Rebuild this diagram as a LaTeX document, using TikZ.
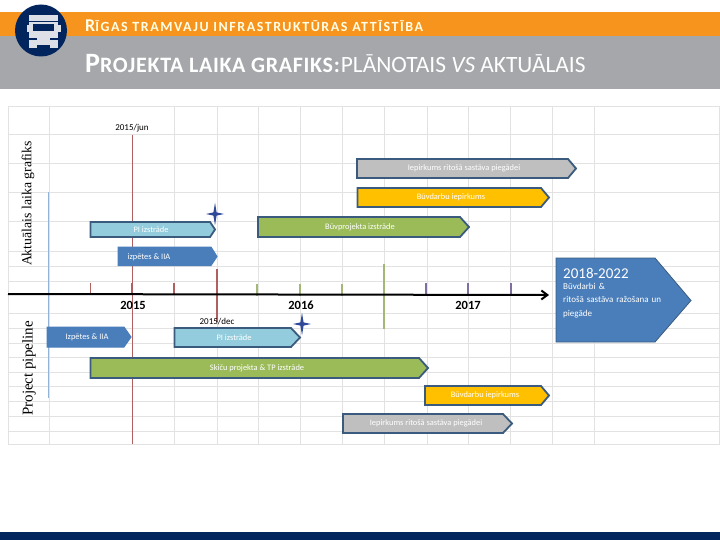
\documentclass[tikz,border=0pt]{standalone}
\usepackage{fontspec}
\setmainfont{Carlito}
\newfontfamily\serifl{Liberation Serif}
\usetikzlibrary{arrows.meta}
\definecolor{orangebar}{HTML}{F7941E}
\definecolor{greybar}{HTML}{A5A7AA}
\definecolor{navy}{HTML}{03255E}
\definecolor{gridc}{HTML}{E2E2E2}
\definecolor{edgec}{HTML}{3B5B7E}
\definecolor{barblue}{HTML}{4A7EBB}
\definecolor{barlight}{HTML}{93CDDD}
\definecolor{bargreen}{HTML}{9BBB59}
\definecolor{baryellow}{HTML}{FFC000}
\definecolor{bargrey}{HTML}{BFBFBF}
\definecolor{redl}{HTML}{B0605F}
\definecolor{greenl}{HTML}{A3B877}
\definecolor{purpl}{HTML}{7F6FA0}
\definecolor{truckc}{HTML}{DDE0E6}
\tikzset{
  x=1pt,y=-1pt,
  gridline/.style={draw=gridc,line width=1pt},
  barbox/.style={draw=edgec,line width=1.8pt,line join=miter},
  bartext/.style={text=white,font=\fontsize{8.4}{9}\selectfont,inner sep=0pt},
  tick/.style={line width=1.3pt},
  yearlab/.style={font=\fontsize{12.5}{13}\selectfont\bfseries,inner sep=0pt},
  datelab/.style={font=\fontsize{9}{10}\selectfont,inner sep=0pt},
  sidelab/.style={rotate=90,inner sep=0pt},
  starf/.style={fill=edgec!80!blue,draw=none}
}
\newcommand{\sparkle}[3]{\fill[starf] (#1-#3,#2) -- (#1-1.6,#2-1.6) -- (#1,#2-#3*1.25) -- (#1+1.6,#2-1.6) -- (#1+#3,#2) -- (#1+1.6,#2+1.6) -- (#1,#2+#3*1.25) -- (#1-1.6,#2+1.6) -- cycle;}
\newcommand{\pent}[8]{%
  \draw[barbox,fill=#6] (#1,#4) -- (#2,#4) -- (#3,{(#4+#5)/2}) -- (#2,#5) -- (#1,#5) -- cycle;
  \node[bartext] (#8) at (#7,{(#4+#5)/2}) {};
}
\begin{document}
\begin{tikzpicture}
\useasboundingbox (0,0) rectangle (720,540);
\fill[white] (0,0) rectangle (720,540);
% header
\fill[orangebar] (0,12) rectangle (720,36);
\fill[greybar] (0,36) rectangle (720,89);
\fill[navy] (0,532) rectangle (720,540);
\node[anchor=base west,inner sep=0pt,text=white!90!yellow] (t1) at (85,31.5)
 {\bfseries\addfontfeature{LetterSpace=11}\fontsize{18}{18}\selectfont R\fontsize{14}{18}\selectfont ĪGAS TRAMVAJU INFRASTRUKTŪRAS ATTĪSTĪBA};
\node[anchor=base west,inner sep=0pt,text=white] (t2) at (85,73)
 {{\bfseries\addfontfeature{LetterSpace=3}\fontsize{28}{28}\selectfont P\fontsize{22}{28}\selectfont ROJEKTA LAIKA GRAFIKS:}\hspace{1pt}\fontsize{23.4}{28}\selectfont PLĀNOTAIS \textit{VS} AKTUĀLAIS};
% logo
\fill[navy] (41,30.5) circle (26);
\fill[truckc] (29,15) rectangle (58,21.5);
\fill[truckc] (29,22.5) rectangle (58,48);
\fill[navy] (33,24) rectangle (54,31);
\fill[truckc] (26.5,25) rectangle (29,32);
\fill[truckc] (58,25) rectangle (60.5,32);
\fill[navy] (29,38) rectangle (37,40);
\fill[navy] (50,38) rectangle (58,40);
\fill[navy] (37,45) rectangle (50,48);
% grid: horizontal
\foreach \yy in {107,135,164,193,222,251,266,281,313,328,343,357,372,386,401,416,431,444}
  \draw[gridline] (7.5,\yy) -- (719.5,\yy);
% grid: vertical
\draw[gridline] (8,107) -- (8,444);
\draw[gridline] (719,107) -- (719,444);
\foreach \xx in {49,174,217,258,300,342,384,427,468,510,552,594}
  \draw[gridline] (\xx,107) -- (\xx,444);
\draw[draw=barblue!60!white,line width=0.8pt] (48.5,192) -- (48.5,398);
% date lines
\draw[draw=redl,line width=0.7pt] (132,135) -- (132,444);
\draw[draw=redl,line width=1.6pt] (217,269) -- (217,322);
\draw[draw=greenl,line width=1.6pt] (384,264) -- (384,329);
% ticks
\foreach \xx in {90.5,132,174} \draw[tick,draw=redl] (\xx,283) -- (\xx,294);
\foreach \xx in {257,300,342} \draw[tick,draw=greenl] (\xx,284) -- (\xx,296);
\foreach \xx in {426,468,511} \draw[tick,draw=purpl] (\xx,283) -- (\xx,295);
% axis
\coordinate (axs) at (8,294); \coordinate (axe) at (549,295);
\draw[line width=2pt,-{Straight Barb[length=6pt,width=9pt]}] (axs) -- (axe);
\node[yearlab] (y15) at (133,305) {2015};
\node[yearlab] (y16) at (301,305) {2016};
\node[yearlab] (y17) at (468,305) {2017};
\node[datelab] (jun) at (132,128.5) {2015/jun};
\node[datelab] (dec) at (217,322) {2015/dec};
\node[sidelab,font=\serifl\fontsize{13.8}{14}\selectfont] (lab1) at (28,203.5) {Aktuālais laika grafiks};
\node[sidelab,font=\serifl\fontsize{15}{16}\selectfont] (lab2) at (29,368.5) {Project pipeline};
% upper bars
\pent{357}{568}{576}{159}{178}{bargrey}{464}{b1}
\node[bartext] at (b1) {Iepirkums ritošā sastāva piegādei};
\pent{357.5}{541}{549}{188}{207}{baryellow}{451}{b2}
\node[bartext] at (b2) {Būvdarbu iepirkums};
\pent{258}{460}{469}{217}{237}{bargreen}{360}{b3}
\node[bartext] at (b3) {Būvprojekta izstrāde};
\pent{90.5}{210}{215}{222}{237}{barlight}{151}{b4}
\node[bartext] at (b4) {PI izstrāde};
\draw[draw=barblue,line width=1pt,fill=barblue] (118,247) -- (211,247) -- (217,256.5) -- (211,265.5) -- (118,265.5) -- cycle;
\node[bartext] (b5) at (149,257) {izpētes \& IIA};
% lower bars
\draw[draw=barblue,line width=1pt,fill=barblue] (47,327) -- (124,327) -- (131,337) -- (124,347) -- (47,347) -- cycle;
\node[bartext] (c1) at (87,337) {Izpētes \& IIA};
\pent{174.5}{291}{300}{328}{347}{barlight}{234}{c2}
\node[bartext] at (c2) {PI izstrāde};
\pent{90.5}{419}{428}{358}{378}{bargreen}{257}{c3}
\node[bartext] at (c3) {Skiču projekta \& TP izstrāde};
\pent{425}{541}{549}{386}{405}{baryellow}{485}{c4}
\node[bartext] at (c4) {Būvdarbu iepirkums};
\pent{343}{503}{512}{414}{433}{bargrey}{426}{c5}
\node[bartext] at (c5) {Iepirkums ritošā sastāva piegādei};
% big pentagon
\draw[draw=edgec,line width=0.8pt,fill=barblue] (556,258) -- (655,258) -- (691,300.5) -- (655,342) -- (556,342) -- cycle;
\node[anchor=west,inner sep=0pt,text=white,font=\fontsize{15}{17}\selectfont] (d1) at (563,273) {2018-2022};
\node[anchor=north west,inner sep=0pt,text=white,font=\fontsize{9}{13.5}\selectfont,align=left,text width=112pt] (d2) at (563,283) {Būvdarbi \&\\ritošā sastāva ražošana un\\piegāde};
% sparkles
\sparkle{215}{214}{9}
\sparkle{302}{324}{9}
\end{tikzpicture}
\end{document}
